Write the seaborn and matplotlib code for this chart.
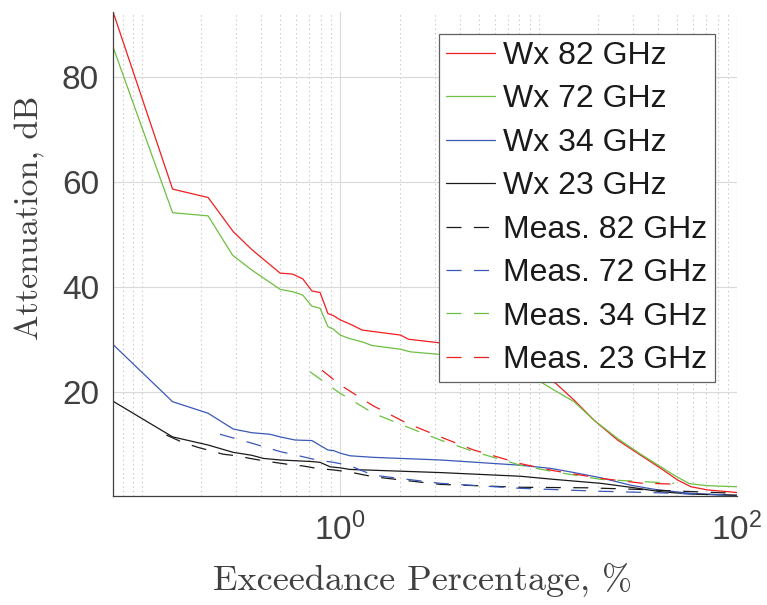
import matplotlib
matplotlib.use('Agg')
import matplotlib.pyplot as plt
import matplotlib.ticker as mticker
import seaborn as sns

# Exceedance percentage (%) and attenuation (dB)
wx82_x = [0.0716, 0.143, 0.216, 0.289, 0.358, 0.498, 0.577, 0.648, 0.72, 0.792, 0.867, 0.925, 1.0, 1.15,
          1.29, 2.01, 2.21, 3.2, 5.0, 8.0, 12.2, 15.1, 19.0, 25.0, 32.7, 41.3, 50.1, 58.6, 71.0, 100.0]
wx82_y = [92.4, 58.6, 57.0, 50.5, 47.1, 42.6, 42.4, 41.5, 39.2, 38.9, 34.9, 34.5, 33.7, 32.7,
          31.75, 30.8, 30.0, 29.3, 27.5, 25.0, 21.6, 18.4, 14.6, 10.8, 7.9, 5.4, 3.2, 1.9, 1.3, 0.8]

wx72_x = [0.0716, 0.143, 0.216, 0.287, 0.358, 0.498, 0.577, 0.648, 0.72, 0.792, 0.867, 0.925, 1.0, 1.1,
          1.15, 1.29, 1.45, 2.01, 2.26, 3.2, 5.5, 8.0, 10.2, 12.0, 15.1, 19.0, 25.0, 32.7, 41.3, 48.2,
          57.4, 71.0, 100.0]
wx72_y = [85.7, 54.1, 53.5, 46.0, 43.2, 39.5, 39.05, 38.4, 36.3, 35.9, 32.4, 31.9, 30.8, 30.2,
          30.0, 29.5, 28.8, 28.1, 27.6, 27.1, 25.8, 24.0, 21.9, 20.3, 18.1, 14.6, 11.1, 8.1, 5.7, 4.1,
          2.5, 2.1, 1.9]

wx34_x = [0.0716, 0.143, 0.216, 0.289, 0.358, 0.443, 0.498, 0.593, 0.72, 0.867, 0.925, 1.0, 1.12,
          1.47, 3.2, 8.1, 11.5, 15.1, 20.6, 29.1, 39.8, 58.6, 100.0]
wx34_y = [29.0, 18.1, 15.9, 12.9, 12.2, 11.9, 11.4, 10.8, 10.7, 8.9, 8.8, 8.3, 7.8,
          7.5, 7.0, 6.0, 5.4, 4.6, 3.6, 2.2, 1.3, 0.65, 0.2]

wx23_x = [0.0716, 0.143, 0.216, 0.289, 0.358, 0.41, 0.498, 0.72, 0.792, 0.89, 1.0, 1.12, 3.2, 8.1,
          12.0, 20.6, 29.1, 41.3, 58.6, 100.0]
wx23_y = [18.2, 11.4, 9.85, 8.45, 7.9, 7.3, 7.0, 6.7, 6.55, 5.7, 5.5, 5.2, 4.6, 3.9,
          3.3, 2.55, 1.8, 0.95, 0.5, 0.3]

meas82_x = [0.133, 0.162, 0.192, 0.22, 0.257, 0.301, 0.351, 0.41, 0.538, 0.653, 0.762, 0.925, 1.1,
            1.47, 3.2, 8.1, 17.6, 31.6, 45.0, 100.0]
meas82_y = [11.75, 10.3, 9.4, 8.8, 8.1, 7.8, 7.3, 6.85, 6.2, 5.85, 5.4, 5.1, 4.75,
            3.8, 2.35, 1.8, 1.7, 1.4, 1.15, 0.65]

meas72_x = [0.248, 0.351, 0.498, 0.653, 0.762, 0.925, 1.1, 1.47, 3.2, 8.1, 20.0, 39.8, 100.0]
meas72_y = [11.9, 10.3, 8.6, 7.6, 7.0, 6.55, 6.0, 4.1, 2.55, 1.6, 1.05, 0.75, 0.3]

meas34_x = [0.705, 0.925, 1.0, 1.47, 2.17, 3.2, 4.71, 8.1, 11.95, 20.6, 32.7, 48.2]
meas34_y = [23.8, 20.6, 19.7, 15.9, 13.3, 10.8, 8.6, 6.0, 4.76, 3.3, 2.9, 2.55]

meas23_x = [0.81, 1.0, 1.47, 2.17, 3.2, 4.71, 8.1, 11.95, 20.6, 32.7, 48.2]
meas23_y = [24.1, 21.3, 17.3, 14.0, 11.4, 8.9, 6.3, 4.95, 3.5, 2.6, 2.4]

dash = (0, (12, 10))
series = [
    ('Wx 82 GHz', wx82_x, wx82_y, '#f01e1e', '-'),
    ('Wx 72 GHz', wx72_x, wx72_y, '#6ebf42', '-'),
    ('Wx 34 GHz', wx34_x, wx34_y, '#3a58b8', '-'),
    ('Wx 23 GHz', wx23_x, wx23_y, '#1a1a1a', '-'),
    ('Meas. 82 GHz', meas82_x, meas82_y, '#1a1a1a', dash),
    ('Meas. 72 GHz', meas72_x, meas72_y, '#3a58b8', dash),
    ('Meas. 34 GHz', meas34_x, meas34_y, '#6ebf42', dash),
    ('Meas. 23 GHz', meas23_x, meas23_y, '#f01e1e', dash),
]

sns.set_style('white')
plt.rcParams['font.family'] = ['Liberation Sans', 'DejaVu Sans']
text_color = '#404040'

fig = plt.figure(figsize=(7.67, 6.05), dpi=100)
ax = fig.add_axes([0.1473, 0.1807, 0.8136, 0.80])
ax.set_xscale('log')

for label, xs, ys, color, ls in series:
    sns.lineplot(x=xs, y=ys, ax=ax, color=color, linestyle=ls, linewidth=0.9, label=label)

ax.set_xlim(0.0716, 100)
ax.set_ylim(0.2, 92.4)

# ticks: only 10^0 and 10^2 labelled, all others minor
ax.xaxis.set_major_locator(mticker.FixedLocator([1, 100]))
ax.xaxis.set_major_formatter(mticker.LogFormatterSciNotation())
minor = [m * 10.0 ** e for e in (-2, -1, 0, 1) for m in range(1, 10)]
minor = [v for v in minor if v not in (1, 100)]
ax.xaxis.set_minor_locator(mticker.FixedLocator(minor))
ax.xaxis.set_minor_formatter(mticker.NullFormatter())
ax.set_yticks([20, 40, 60, 80])

ax.tick_params(which='both', direction='in', colors=text_color, labelsize=24)
ax.tick_params(which='major', length=5, width=0.8)
ax.tick_params(which='minor', length=2.5, width=0.6)
ax.tick_params(axis='x', pad=12)
ax.tick_params(axis='y', pad=10)

ax.grid(which='major', color='#dadada', linewidth=0.8, linestyle='-')
ax.grid(which='minor', axis='x', color='#bdbdbd', linewidth=0.8, linestyle=(0, (1, 3)))
ax.set_axisbelow(True)

for side in ('top', 'right'):
    ax.spines[side].set_visible(False)
for side in ('left', 'bottom'):
    ax.spines[side].set_color(text_color)
    ax.spines[side].set_linewidth(0.9)

ax.set_xlabel('Exceedance Percentage, %', family=['cmr10', 'DejaVu Serif'], fontsize=26, color=text_color)
ax.set_ylabel('Attenuation, dB', family=['cmr10', 'DejaVu Serif'], fontsize=24.5, color=text_color)
ax.xaxis.set_label_coords(0.496, -0.14)
ax.yaxis.set_label_coords(-0.11, 0.575)

leg = ax.legend(loc='upper right', fontsize=23, frameon=True, fancybox=False, framealpha=1,
                edgecolor='#606060', handlelength=1.55, handletextpad=0.25, labelspacing=0.42,
                borderpad=0.22, borderaxespad=0.7)
leg.get_frame().set_linewidth(0.9)
for t in leg.get_texts():
    t.set_color('#1a1a1a')

fig.savefig('out.png', dpi=100)
